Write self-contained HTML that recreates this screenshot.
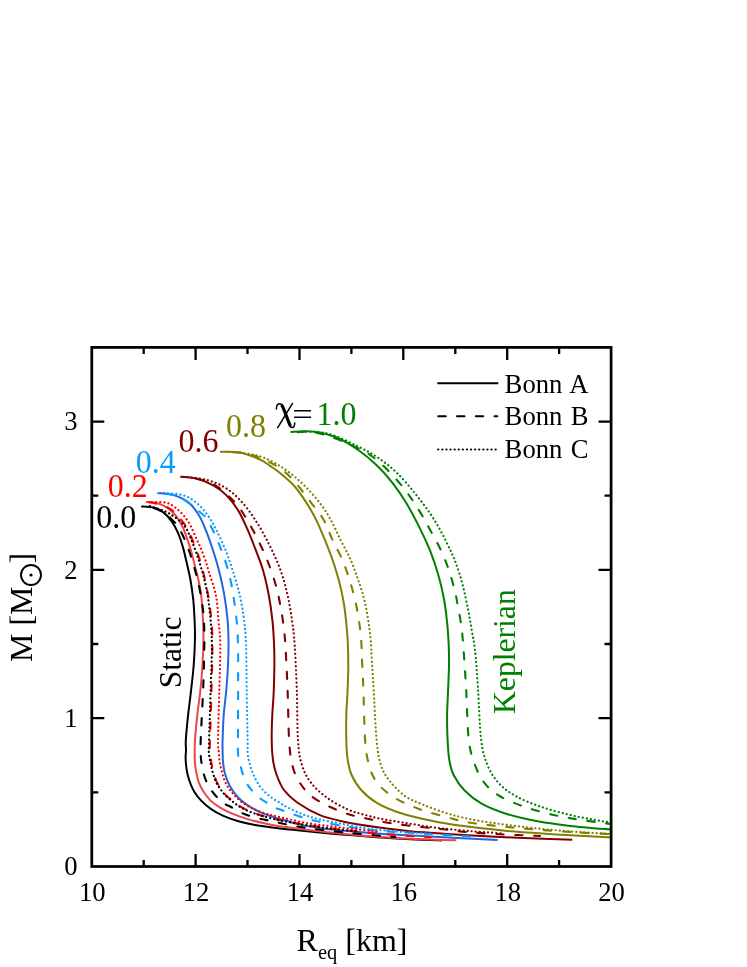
<!DOCTYPE html>
<html><head><meta charset="utf-8"><title>M-R relation</title>
<style>
html,body{margin:0;padding:0;background:#fff;}
body{width:747px;height:967px;overflow:hidden;}
svg{display:block;will-change:transform;}
svg text{font-family:"Liberation Serif",serif;}
</style></head><body>
<svg width="747" height="967" viewBox="0 0 747 967">
<rect x="0" y="0" width="747" height="967" fill="#fff"/>
<defs><clipPath id="cp"><rect x="91.8" y="347.4" width="519.3" height="519.1"/></clipPath></defs>
<g clip-path="url(#cp)" stroke-linecap="butt" stroke-linejoin="round">
<path d="M141.2,506.4C143.3,506.6 150.3,506.8 154.1,507.8C157.8,508.8 160.8,510.3 163.7,512.6C166.6,514.9 169.3,518.0 171.7,521.4C174.1,524.8 176.0,528.4 177.9,532.7C179.8,537.0 181.5,542.5 182.9,547.1C184.3,551.7 184.8,554.7 186.1,560.2C187.4,565.7 189.3,573.5 190.5,580.2C191.7,586.9 192.6,593.5 193.3,600.2C194.0,606.9 194.3,613.7 194.6,620.3C194.9,626.9 195.1,632.5 194.9,640.0C194.8,647.5 194.3,656.6 193.7,665.0C193.1,673.4 192.0,681.8 191.1,690.1C190.2,698.5 189.0,706.8 188.1,715.1C187.2,723.4 186.2,734.3 185.8,740.1C185.5,745.9 186.0,747.0 186.0,750.0C186.0,753.0 185.5,754.6 185.6,758.0C185.7,761.4 186.1,766.3 186.7,770.1C187.3,773.9 188.2,777.2 189.4,780.8C190.6,784.4 192.1,788.1 194.1,791.5C196.1,794.9 198.6,798.0 201.4,800.9C204.2,803.8 207.2,806.4 210.8,808.9C214.4,811.4 218.3,813.6 222.8,815.6C227.3,817.6 232.2,819.4 237.6,821.0C243.0,822.6 247.9,823.8 255.0,825.0C262.1,826.2 273.3,827.6 280.0,828.4C286.7,829.2 289.0,829.4 295.2,830.0C301.4,830.6 308.7,831.4 317.0,832.2C325.3,833.0 336.2,834.0 345.0,834.8C353.8,835.6 359.2,836.1 370.0,836.8C380.8,837.5 398.0,838.6 410.0,839.2C422.0,839.8 436.7,840.3 442.0,840.5" stroke="#000000" stroke-width="2.0" fill="none"/>
<path d="M146.0,502.1C148.2,502.4 155.2,502.6 158.9,503.7C162.7,504.8 165.6,506.5 168.5,508.6C171.4,510.8 174.2,513.4 176.6,516.6C179.0,519.8 181.1,523.8 183.0,527.8C184.9,531.8 186.3,536.4 187.8,540.7C189.3,545.0 190.6,549.2 191.8,553.5C193.0,557.8 194.0,562.3 195.0,566.4C196.0,570.5 197.0,573.2 198.0,578.0C199.0,582.8 200.4,588.2 201.2,595.2C202.0,602.2 202.6,612.8 203.0,620.3C203.4,627.8 203.5,632.5 203.4,640.0C203.3,647.5 203.0,656.6 202.5,665.0C202.0,673.4 201.3,681.8 200.4,690.1C199.5,698.5 198.2,706.8 197.3,715.1C196.4,723.4 195.4,734.3 195.0,740.1C194.6,745.9 194.7,746.6 194.7,750.0C194.7,753.4 194.6,757.1 194.8,760.7C195.0,764.3 195.4,767.8 196.1,771.4C196.8,775.0 197.5,778.8 198.7,782.1C199.9,785.5 201.4,788.4 203.4,791.5C205.4,794.6 208.0,798.2 210.8,800.9C213.6,803.6 216.6,805.5 220.2,807.6C223.8,809.7 227.8,811.7 232.2,813.6C236.6,815.5 241.8,817.3 246.9,818.9C252.0,820.5 257.5,821.8 263.0,823.0C268.5,824.2 271.0,825.0 280.0,826.3C289.0,827.6 306.2,829.7 317.0,831.0C327.8,832.3 336.2,833.1 345.0,834.0C353.8,834.9 360.8,835.6 370.0,836.3C379.2,837.0 390.0,837.7 400.0,838.2C410.0,838.7 420.6,839.1 430.0,839.5C439.4,839.9 451.9,840.2 456.3,840.3" stroke="#F04545" stroke-width="2.0" fill="none"/>
<path d="M157.5,492.9C160.2,493.3 168.6,493.5 173.8,495.1C179.0,496.7 184.6,499.3 188.8,502.6C193.0,505.9 196.0,510.5 198.8,515.1C201.6,519.7 203.4,524.2 205.8,530.1C208.2,536.0 210.8,543.5 213.0,550.2C215.2,556.9 217.0,562.7 218.9,570.2C220.8,577.7 222.9,586.9 224.3,595.2C225.8,603.6 226.9,612.8 227.6,620.3C228.3,627.8 228.4,632.5 228.5,640.0C228.6,647.5 228.4,656.7 228.0,665.0C227.6,673.3 227.0,681.7 226.3,690.0C225.6,698.3 224.3,706.7 223.7,715.0C223.1,723.3 222.8,734.2 222.6,740.0C222.4,745.8 222.5,746.5 222.6,750.0C222.7,753.5 222.6,757.1 222.9,760.7C223.2,764.3 223.6,768.0 224.4,771.4C225.2,774.8 226.3,777.9 227.5,780.8C228.7,783.7 229.8,786.1 231.5,788.8C233.2,791.5 235.5,794.5 237.6,796.9C239.7,799.2 241.9,801.0 244.3,802.9C246.8,804.8 249.4,806.5 252.3,808.2C255.2,809.9 258.6,811.5 261.7,812.9C264.8,814.2 267.9,815.3 271.0,816.3C274.1,817.3 275.6,817.6 280.0,818.9C284.4,820.2 291.5,822.5 297.7,824.0C303.9,825.5 304.9,826.2 317.0,827.7C329.1,829.2 351.2,831.5 370.0,833.0C388.8,834.5 408.7,835.3 430.0,836.5C451.3,837.7 486.3,839.4 497.6,840.0" stroke="#2364E0" stroke-width="2.0" fill="none"/>
<path d="M180.3,476.8C183.2,477.1 192.0,477.3 197.6,478.8C203.2,480.3 209.3,483.3 214.1,486.0C218.9,488.7 222.2,491.1 226.2,495.1C230.2,499.1 234.4,504.3 238.0,510.1C241.6,515.9 244.8,523.4 247.8,530.1C250.8,536.8 253.3,543.5 255.8,550.2C258.3,556.9 260.8,562.7 263.0,570.2C265.2,577.7 267.2,586.9 268.8,595.2C270.4,603.6 271.5,611.9 272.4,620.3C273.3,628.6 273.8,637.8 274.1,645.3C274.4,652.8 274.4,657.5 274.4,665.0C274.3,672.5 274.1,681.7 273.8,690.0C273.5,698.3 272.7,706.7 272.3,715.0C271.9,723.3 271.6,732.5 271.7,740.0C271.8,747.5 272.2,754.2 273.0,760.0C273.8,765.8 274.9,770.0 276.7,775.0C278.5,780.0 280.5,785.4 284.0,790.0C287.5,794.6 291.6,798.5 297.6,802.7C303.6,806.9 312.1,811.9 320.0,815.1C327.9,818.3 335.4,819.9 345.0,821.9C354.6,823.9 366.7,825.7 377.6,827.2C388.5,828.8 401.5,830.3 410.2,831.2C418.9,832.1 420.4,832.1 430.0,832.8C439.6,833.5 455.0,834.6 467.5,835.3C480.0,836.0 492.6,836.6 505.1,837.2C517.6,837.8 531.4,838.3 542.6,838.7C553.8,839.1 567.3,839.5 572.2,839.7" stroke="#800000" stroke-width="2.0" fill="none"/>
<path d="M220.0,451.8C223.3,451.9 233.3,451.2 240.0,452.5C246.7,453.8 255.0,457.3 260.0,459.5C265.0,461.7 266.7,463.6 270.0,465.8C273.3,468.1 276.0,469.7 280.0,473.0C284.0,476.3 289.4,480.6 293.8,485.5C298.2,490.4 302.6,496.8 306.3,502.6C310.1,508.4 313.2,513.8 316.3,520.1C319.4,526.4 322.3,533.5 325.0,540.2C327.7,546.9 330.4,553.5 332.7,560.2C335.0,566.9 337.0,573.5 338.8,580.2C340.6,586.9 342.1,593.5 343.3,600.2C344.5,606.9 345.3,613.6 346.0,620.3C346.7,627.0 347.3,632.8 347.7,640.3C348.1,647.8 348.3,656.7 348.3,665.0C348.3,673.3 347.9,681.7 347.6,690.0C347.3,698.3 346.5,706.7 346.3,715.0C346.1,723.3 346.1,732.5 346.3,740.0C346.5,747.5 346.8,754.2 347.7,760.0C348.6,765.8 349.4,770.0 351.6,775.0C353.9,780.0 357.0,785.4 361.2,790.0C365.4,794.6 370.3,799.1 376.8,802.9C383.3,806.7 391.3,810.1 400.2,813.0C409.1,815.9 419.0,818.1 430.2,820.4C441.4,822.7 455.0,824.9 467.5,826.6C480.0,828.3 492.6,829.6 505.1,830.8C517.6,832.0 530.1,832.8 542.6,833.6C555.1,834.4 568.6,835.2 580.2,835.8C591.8,836.4 606.7,837.1 612.0,837.4" stroke="#808000" stroke-width="2.0" fill="none"/>
<path d="M290.5,432.0C292.9,431.9 300.1,431.2 305.0,431.3C309.9,431.4 314.2,431.3 320.0,432.6C325.8,433.9 333.6,436.1 340.0,439.0C346.4,441.9 352.2,445.7 358.3,450.0C364.4,454.3 370.7,459.6 376.4,465.0C382.1,470.4 387.4,476.3 392.3,482.6C397.2,488.9 401.7,495.5 406.0,502.6C410.3,509.7 414.3,517.2 418.3,525.1C422.3,533.0 426.5,541.9 429.9,550.2C433.2,558.6 436.0,566.9 438.4,575.2C440.8,583.5 442.7,591.9 444.2,600.2C445.7,608.6 446.6,617.8 447.4,625.3C448.1,632.8 448.4,638.7 448.7,645.3C449.0,651.9 449.1,657.5 449.0,665.0C448.9,672.5 448.4,681.7 448.1,690.0C447.8,698.3 447.2,706.7 447.1,715.0C447.0,723.3 447.2,732.5 447.6,740.0C448.0,747.5 448.3,754.2 449.3,760.0C450.3,765.8 451.1,769.9 453.6,775.0C456.2,780.1 459.9,785.7 464.6,790.5C469.3,795.3 474.8,799.9 482.0,803.9C489.2,807.9 498.3,811.3 507.6,814.2C516.9,817.1 527.2,819.3 537.6,821.3C548.0,823.2 557.8,824.5 570.2,825.9C582.6,827.3 605.0,829.0 612.0,829.6" stroke="#008000" stroke-width="2.0" fill="none"/>
<path d="M148.0,506.2C150.0,506.9 156.1,508.4 160.0,510.5C163.9,512.6 168.0,515.6 171.3,518.9C174.6,522.1 177.1,524.8 180.0,530.0C182.9,535.2 185.9,541.7 188.8,550.0C191.7,558.3 195.2,570.0 197.6,580.0C200.0,590.0 201.9,601.2 203.0,610.0C204.1,618.8 204.1,624.5 204.3,632.8C204.5,641.1 204.2,650.5 204.0,660.0C203.8,669.5 203.7,676.8 203.1,690.1C202.5,703.5 201.1,729.5 200.7,740.1C200.3,750.8 200.6,750.4 200.7,754.0C200.8,757.6 200.9,758.9 201.4,762.0C201.9,765.1 202.6,769.7 203.4,772.8C204.2,775.9 204.9,778.0 206.1,780.8C207.3,783.6 209.0,786.8 210.8,789.5C212.6,792.2 214.6,794.6 216.8,796.9C219.0,799.2 221.8,801.8 224.2,803.5C226.5,805.2 228.2,805.4 230.9,806.9C233.6,808.4 237.5,810.9 240.2,812.2C242.9,813.5 244.0,813.9 246.9,814.9C249.8,815.9 254.5,817.5 257.6,818.3C260.7,819.1 262.6,819.2 265.7,819.9C268.8,820.6 269.8,821.0 276.4,822.3C283.0,823.6 292.9,825.9 305.2,827.7C317.5,829.5 335.0,831.5 350.0,833.0C365.0,834.5 387.8,836.3 395.4,837.0" stroke="#000000" stroke-width="2.1" stroke-linecap="round" stroke-dasharray="7.3 11.6" stroke-dashoffset="-6.0" fill="none"/>
<path d="M149.0,502.0C151.0,502.5 157.3,503.7 161.0,505.0C164.7,506.3 168.0,507.2 171.3,509.6C174.6,512.0 178.0,515.7 181.0,519.5C184.0,523.3 186.1,526.0 189.2,532.6C192.3,539.2 196.6,549.7 199.5,558.9C202.4,568.1 204.8,578.3 206.7,587.7C208.6,597.1 209.9,606.0 210.9,615.2C211.9,624.4 212.3,630.3 212.4,642.8C212.5,655.3 211.9,673.8 211.5,690.0C211.1,706.2 210.3,729.7 210.0,740.0C209.7,750.3 209.6,748.5 209.8,752.0C210.0,755.5 210.5,757.7 211.0,760.7C211.5,763.7 212.1,766.8 213.0,770.1C213.9,773.5 215.0,777.7 216.3,780.8C217.6,783.9 219.3,786.3 221.0,788.8C222.7,791.2 224.1,793.3 226.3,795.5C228.5,797.7 231.8,800.3 234.2,802.2C236.6,804.1 238.3,805.3 241.0,806.9C243.7,808.5 247.2,810.3 250.3,811.6C253.4,812.9 256.5,813.9 259.6,814.9C262.7,815.9 265.6,816.7 269.0,817.6C272.4,818.5 274.8,819.0 280.0,820.1C285.2,821.2 290.2,822.4 300.2,824.0C310.2,825.6 325.0,827.8 340.0,829.5C355.0,831.2 374.9,833.2 390.0,834.5C405.1,835.8 423.8,836.8 430.6,837.3" stroke="#FF0000" stroke-width="2.1" stroke-linecap="round" stroke-dasharray="7.3 11.6" stroke-dashoffset="0" fill="none"/>
<path d="M161.0,492.9C163.3,493.3 170.6,494.1 175.0,495.6C179.4,497.1 183.8,499.6 187.6,502.1C191.4,504.6 194.7,507.5 198.0,510.5C201.3,513.5 204.1,514.5 207.6,520.1C211.1,525.7 215.4,535.4 218.9,543.9C222.4,552.4 225.9,562.2 228.4,571.4C230.9,580.6 232.5,589.8 233.9,599.0C235.3,608.2 236.4,617.5 237.1,626.5C237.8,635.5 237.9,642.2 238.1,652.8C238.3,663.4 238.1,675.5 238.1,690.0C238.1,704.5 238.0,730.0 238.0,740.0C238.0,750.0 237.8,747.2 237.9,750.0C238.0,752.8 237.9,753.8 238.4,756.7C238.9,759.6 240.2,764.5 240.9,767.4C241.7,770.3 241.8,771.2 242.9,774.1C244.0,777.0 245.9,781.9 247.6,784.8C249.3,787.7 250.7,789.0 253.0,791.5C255.3,794.0 259.1,797.5 261.7,799.5C264.3,801.5 265.9,802.0 268.4,803.5C270.8,805.0 274.5,807.2 276.4,808.2C278.3,809.2 276.0,808.2 280.0,809.6C284.0,811.0 294.0,814.8 300.2,816.7C306.4,818.6 309.5,819.6 317.0,821.2C324.5,822.8 336.2,824.7 345.0,826.2C353.8,827.7 362.5,829.1 370.0,830.0C377.5,830.9 383.3,831.1 390.0,831.6C396.7,832.1 403.3,832.3 410.0,832.7C416.7,833.1 420.0,833.4 430.0,834.0C440.0,834.6 463.3,836.1 470.0,836.5" stroke="#0A9BFF" stroke-width="2.1" stroke-linecap="round" stroke-dasharray="7.3 11.6" stroke-dashoffset="-5.5" fill="none"/>
<path d="M183.0,476.8C185.8,477.3 194.2,477.9 200.0,479.6C205.8,481.3 211.8,483.0 217.6,486.8C223.4,490.6 230.4,497.5 235.1,502.6C239.8,507.7 242.3,512.0 245.8,517.6C249.3,523.2 252.8,529.7 256.2,536.4C259.6,543.1 263.0,550.0 266.2,557.7C269.4,565.4 272.8,574.8 275.1,582.7C277.5,590.6 278.9,597.7 280.3,605.2C281.8,612.7 282.9,620.3 283.8,627.8C284.7,635.3 285.1,639.9 285.7,650.3C286.3,660.7 287.0,675.0 287.6,690.0C288.2,705.0 288.3,727.5 289.1,740.0C289.9,752.5 290.5,757.9 292.3,765.0C294.1,772.1 296.2,777.2 299.8,782.7C303.4,788.2 307.1,793.3 314.2,798.2C321.3,803.1 333.7,808.8 342.6,812.2C351.5,815.6 359.2,816.9 367.6,818.8C376.0,820.7 383.9,822.1 392.7,823.5C401.5,824.9 411.4,825.9 420.2,826.9C428.9,827.9 437.3,828.6 445.2,829.5C453.1,830.4 457.5,831.4 467.5,832.2C477.5,833.0 493.0,833.9 505.1,834.5C517.2,835.1 534.3,835.8 540.1,836.0" stroke="#800000" stroke-width="2.1" stroke-linecap="round" stroke-dasharray="7.3 11.6" stroke-dashoffset="5.6" fill="none"/>
<path d="M224.0,451.8C227.5,452.1 238.4,452.0 245.0,453.3C251.6,454.6 257.4,456.7 263.7,459.5C270.0,462.3 277.1,465.8 282.7,470.1C288.3,474.4 292.8,479.7 297.5,485.1C302.2,490.5 306.6,496.8 311.0,502.6C315.4,508.4 320.2,513.8 323.8,520.1C327.4,526.4 329.5,533.5 332.6,540.2C335.7,546.9 339.8,553.5 342.6,560.2C345.4,566.9 347.5,573.5 349.6,580.2C351.7,586.9 353.6,593.5 355.1,600.2C356.7,606.9 357.9,613.6 358.9,620.3C359.9,627.0 360.7,633.3 361.2,640.3C361.7,647.2 361.7,653.7 362.1,662.0C362.5,670.3 362.9,677.0 363.4,690.0C363.9,703.0 364.2,727.5 365.1,740.0C366.0,752.5 367.0,757.9 369.0,765.0C371.0,772.1 372.9,777.2 377.2,782.7C381.4,788.2 387.3,793.2 394.5,797.7C401.7,802.2 411.8,806.2 420.2,809.4C428.6,812.6 437.3,814.6 445.2,816.7C453.1,818.9 457.5,820.6 467.5,822.3C477.5,824.0 492.6,825.5 505.1,826.8C517.6,828.1 530.1,829.0 542.6,830.0C555.1,831.0 568.6,831.8 580.2,832.5C591.8,833.2 606.7,833.9 612.0,834.2" stroke="#808000" stroke-width="2.1" stroke-linecap="round" stroke-dasharray="7.3 11.6" stroke-dashoffset="9.7" fill="none"/>
<path d="M297.5,432.2C299.6,432.1 304.6,431.1 310.0,431.8C315.4,432.5 323.0,434.2 330.0,436.5C337.0,438.8 345.3,442.4 352.0,445.5C358.7,448.6 364.2,450.9 370.1,455.0C376.0,459.1 381.8,464.2 387.6,470.1C393.5,476.0 400.0,483.4 405.2,490.1C410.4,496.8 414.7,503.4 418.9,510.1C423.1,516.8 426.5,523.4 430.2,530.1C433.9,536.8 437.8,543.5 440.9,550.2C444.0,556.9 446.6,563.5 448.9,570.2C451.2,576.9 453.2,584.4 454.7,590.2C456.2,596.0 456.6,599.4 457.7,605.2C458.8,611.0 460.3,618.4 461.2,625.0C462.1,631.6 462.4,634.2 463.2,645.0C464.0,655.8 465.3,674.2 466.2,690.0C467.1,705.8 467.3,727.5 468.8,740.0C470.3,752.5 472.4,757.8 475.0,765.0C477.6,772.2 480.5,778.0 484.6,783.2C488.7,788.4 493.2,792.2 499.5,796.0C505.8,799.8 514.6,803.2 522.6,806.1C530.6,809.0 539.2,811.5 547.6,813.6C556.0,815.7 564.4,817.2 572.7,818.6C581.1,820.0 591.2,821.4 597.7,822.3C604.2,823.2 609.6,823.8 612.0,824.1" stroke="#008000" stroke-width="2.1" stroke-linecap="round" stroke-dasharray="7.3 11.6" stroke-dashoffset="0" fill="none"/>
<path d="M150.0,506.2C151.7,506.8 156.7,508.2 160.0,509.5C163.3,510.8 166.0,511.3 170.0,513.9C174.0,516.5 180.2,520.6 183.8,525.0C187.4,529.4 188.7,533.3 191.4,540.0C194.2,546.7 197.8,556.7 200.3,565.0C202.9,573.3 205.1,581.7 206.7,590.0C208.3,598.3 209.2,605.8 210.1,615.0C211.0,624.2 211.8,632.5 211.9,645.0C212.0,657.5 211.1,674.2 210.6,690.0C210.1,705.8 209.4,729.7 209.1,740.0C208.8,750.3 208.6,748.5 208.8,752.0C209.0,755.5 209.6,757.7 210.1,760.7C210.6,763.7 211.2,766.8 212.1,770.1C213.0,773.5 214.2,777.7 215.5,780.8C216.8,783.9 218.5,786.3 220.2,788.8C221.9,791.2 223.3,793.3 225.5,795.5C227.7,797.7 231.1,800.3 233.5,802.2C235.9,804.1 237.5,805.3 240.2,806.9C242.9,808.5 246.5,810.3 249.6,811.6C252.7,812.9 255.9,813.9 259.0,814.9C262.1,815.9 264.9,816.7 268.4,817.6C271.9,818.5 274.7,819.2 280.0,820.3C285.3,821.4 291.9,822.6 300.2,824.0C308.5,825.4 320.4,827.2 330.0,828.5C339.6,829.8 353.3,831.0 358.0,831.5" stroke="#000000" stroke-width="2.2" stroke-linecap="round" stroke-dasharray="0.1 4.0" fill="none"/>
<path d="M152.0,502.0C154.5,502.1 162.8,501.8 166.9,502.9C171.0,504.0 173.7,506.3 176.6,508.6C179.5,510.9 182.2,513.7 184.6,516.6C187.0,519.5 188.8,522.5 190.8,526.2C192.8,530.0 194.8,535.1 196.6,539.1C198.4,543.1 200.0,546.3 201.6,550.3C203.2,554.3 205.2,559.6 206.4,563.2C207.6,566.8 207.3,566.7 208.9,572.0C210.5,577.3 214.3,587.2 215.9,595.2C217.5,603.2 217.8,611.9 218.5,620.3C219.2,628.6 220.2,633.7 220.3,645.3C220.4,656.9 219.7,674.2 219.3,690.0C218.9,705.8 218.1,729.7 218.0,740.0C217.9,750.3 218.6,748.5 218.8,752.0C219.1,755.5 219.1,757.7 219.5,760.7C219.9,763.7 220.7,767.0 221.5,770.1C222.3,773.2 223.1,776.6 224.2,779.5C225.3,782.4 226.6,785.0 228.2,787.5C229.8,790.0 231.5,792.0 233.5,794.2C235.5,796.4 237.7,798.9 240.2,800.9C242.7,802.9 245.6,804.7 248.3,806.2C251.0,807.8 253.4,809.0 256.3,810.2C259.2,811.4 262.4,812.6 265.7,813.6C269.0,814.6 269.8,814.8 276.4,816.3C283.0,817.8 294.6,820.8 305.2,822.7C315.8,824.6 327.9,826.0 340.0,827.5C352.1,829.0 371.7,830.8 378.0,831.5" stroke="#FF0000" stroke-width="2.2" stroke-linecap="round" stroke-dasharray="0.1 4.0" fill="none"/>
<path d="M164.0,492.9C167.1,493.3 177.2,493.5 182.6,495.1C188.0,496.7 192.1,499.3 196.3,502.6C200.5,505.9 204.2,510.5 207.6,515.1C210.9,519.7 213.4,524.2 216.4,530.1C219.4,536.0 222.9,543.5 225.6,550.2C228.3,556.9 230.2,562.7 232.6,570.2C235.0,577.7 237.9,586.9 239.8,595.2C241.7,603.6 243.1,611.9 244.1,620.3C245.1,628.6 245.7,633.7 246.1,645.3C246.5,656.9 246.4,674.2 246.7,690.0C246.9,705.8 247.4,729.7 247.6,740.0C247.8,750.3 247.4,748.5 247.6,752.0C247.8,755.5 248.2,757.7 248.9,760.7C249.6,763.7 250.6,767.2 251.6,770.1C252.6,773.0 253.7,775.4 255.0,778.1C256.4,780.8 257.9,783.7 259.7,786.1C261.5,788.5 263.6,790.8 265.7,792.8C267.8,794.8 270.0,796.5 272.4,798.2C274.8,799.9 277.6,801.3 280.0,802.8C282.4,804.3 283.0,805.1 286.8,807.0C290.6,808.9 297.5,812.3 302.8,814.3C308.1,816.3 312.6,817.7 318.9,819.2C325.1,820.7 332.6,822.0 340.3,823.5C348.0,825.0 357.8,827.1 364.8,828.2C371.8,829.3 376.4,829.6 382.2,830.2C388.0,830.8 393.8,831.3 399.6,831.7C405.4,832.1 411.8,832.5 417.0,832.8C422.2,833.1 428.7,833.6 431.0,833.7" stroke="#0A9BFF" stroke-width="2.2" stroke-linecap="round" stroke-dasharray="0.1 4.0" fill="none"/>
<path d="M187.6,477.1C190.9,477.6 201.3,478.4 207.6,480.1C213.8,481.9 219.7,484.3 225.1,487.6C230.5,490.9 235.0,494.7 240.1,500.1C245.2,505.5 250.5,512.6 255.4,520.1C260.3,527.6 265.3,536.9 269.5,545.2C273.7,553.6 277.5,561.9 280.5,570.2C283.5,578.5 285.7,586.9 287.6,595.2C289.5,603.6 290.8,611.9 292.0,620.3C293.2,628.6 293.9,633.7 294.7,645.3C295.5,656.9 296.2,674.2 296.8,690.0C297.4,705.8 297.1,727.5 298.0,740.0C298.9,752.5 299.7,757.9 301.9,765.0C304.1,772.1 306.8,777.2 311.0,782.7C315.2,788.2 320.9,793.3 327.0,797.7C333.1,802.1 341.1,806.4 347.4,809.3C353.7,812.2 359.0,813.3 364.8,814.9C370.6,816.5 376.4,817.9 382.2,819.1C388.0,820.3 393.8,821.0 399.6,822.0C405.4,823.0 411.2,823.9 417.0,824.8C422.8,825.7 427.2,826.6 434.4,827.5C441.6,828.4 452.4,829.5 460.0,830.2C467.6,830.9 473.0,831.4 480.0,831.9C487.0,832.4 498.3,833.1 502.0,833.4" stroke="#800000" stroke-width="2.2" stroke-linecap="round" stroke-dasharray="0.1 4.0" fill="none"/>
<path d="M228.0,451.8C231.7,452.2 244.0,453.0 250.0,454.0C256.0,455.0 259.4,456.1 264.0,457.8C268.6,459.6 272.9,461.8 277.5,464.5C282.1,467.2 286.7,470.4 291.3,474.0C295.9,477.6 300.4,481.6 305.0,486.2C309.6,490.8 314.6,496.3 318.8,501.7C323.0,507.1 326.4,512.0 330.0,518.4C333.6,524.8 337.2,533.1 340.6,540.0C344.1,546.9 347.8,553.3 350.7,560.0C353.6,566.7 355.9,573.3 358.2,580.0C360.5,586.7 362.7,593.3 364.4,600.0C366.1,606.7 367.1,613.3 368.2,620.0C369.2,626.7 370.1,633.0 370.7,640.0C371.3,647.0 371.4,653.7 371.9,662.0C372.4,670.3 372.9,677.0 373.7,690.0C374.5,703.0 375.4,727.5 376.6,740.0C377.8,752.5 378.8,758.2 380.9,765.0C383.0,771.8 385.4,775.4 389.4,780.6C393.4,785.8 399.2,791.9 405.0,796.0C410.8,800.1 416.9,802.2 424.0,805.1C431.1,808.0 441.1,811.5 447.4,813.5C453.7,815.5 456.6,816.1 462.0,817.4C467.4,818.6 472.9,819.8 480.1,821.0C487.3,822.2 494.7,823.3 505.1,824.6C515.5,825.9 530.1,827.7 542.6,829.0C555.1,830.3 568.6,831.4 580.2,832.2C591.8,833.0 606.7,833.6 612.0,833.9" stroke="#808000" stroke-width="2.2" stroke-linecap="round" stroke-dasharray="0.1 4.0" fill="none"/>
<path d="M298.0,432.0C300.8,432.0 309.2,431.5 315.0,432.0C320.8,432.5 325.5,432.6 332.6,435.0C339.7,437.4 350.1,442.5 357.6,446.2C365.1,449.9 371.1,453.0 377.6,457.4C384.1,461.8 390.1,466.4 396.4,472.4C402.7,478.4 409.6,486.7 415.2,493.6C420.8,500.5 425.8,507.1 430.2,513.6C434.6,520.1 438.1,526.2 441.5,532.4C444.9,538.6 448.2,545.7 450.7,551.0C453.1,556.3 454.2,558.3 456.2,564.0C458.2,569.7 460.7,577.3 462.7,585.0C464.7,592.7 466.7,602.5 468.2,610.0C469.7,617.5 470.6,623.3 471.7,630.0C472.8,636.7 473.9,640.0 475.0,650.0C476.1,660.0 477.1,675.0 478.1,690.0C479.1,705.0 479.6,727.5 481.2,740.0C482.8,752.5 484.5,757.8 487.4,765.0C490.3,772.2 494.0,778.0 498.8,783.2C503.6,788.4 509.1,792.3 516.0,796.2C522.9,800.1 531.5,803.5 540.1,806.5C548.7,809.5 558.9,812.2 567.7,814.4C576.5,816.6 585.3,818.1 592.7,819.5C600.1,820.9 608.8,822.2 612.0,822.8" stroke="#008000" stroke-width="2.2" stroke-linecap="round" stroke-dasharray="0.1 4.0" fill="none"/>
</g>
<g>
<rect x="91.8" y="347.4" width="519.3" height="519.1" fill="none" stroke="#000" stroke-width="2.75"/>
<path d="M143.7,866.5v-6.5M143.7,347.4v6.5M195.6,866.5v-12.5M195.6,347.4v12.5M247.5,866.5v-6.5M247.5,347.4v6.5M299.5,866.5v-12.5M299.5,347.4v12.5M351.4,866.5v-6.5M351.4,347.4v6.5M403.3,866.5v-12.5M403.3,347.4v12.5M455.3,866.5v-6.5M455.3,347.4v6.5M507.2,866.5v-12.5M507.2,347.4v12.5M559.1,866.5v-6.5M559.1,347.4v6.5M91.8,792.3h6.5M611.0,792.3h-6.5M91.8,718.2h12.5M611.0,718.2h-12.5M91.8,644.0h6.5M611.0,644.0h-6.5M91.8,569.9h12.5M611.0,569.9h-12.5M91.8,495.7h6.5M611.0,495.7h-6.5M91.8,421.6h12.5M611.0,421.6h-12.5" stroke="#000" stroke-width="2.3" fill="none"/>
</g>
<g fill="#000">
<text transform="translate(92.2,901.0) scale(1,1.05)" font-size="26.67" text-anchor="middle">10</text>
<text transform="translate(196.1,901.0) scale(1,1.05)" font-size="26.67" text-anchor="middle">12</text>
<text transform="translate(300.0,901.0) scale(1,1.05)" font-size="26.67" text-anchor="middle">14</text>
<text transform="translate(403.8,901.0) scale(1,1.05)" font-size="26.67" text-anchor="middle">16</text>
<text transform="translate(507.7,901.0) scale(1,1.05)" font-size="26.67" text-anchor="middle">18</text>
<text transform="translate(611.5,901.0) scale(1,1.05)" font-size="26.67" text-anchor="middle">20</text>
<text transform="translate(77.5,875.2) scale(1,1.05)" font-size="26.67" text-anchor="end">0</text>
<text transform="translate(77.5,727.0) scale(1,1.05)" font-size="26.67" text-anchor="end">1</text>
<text transform="translate(77.5,578.6) scale(1,1.05)" font-size="26.67" text-anchor="end">2</text>
<text transform="translate(77.5,430.4) scale(1,1.05)" font-size="26.67" text-anchor="end">3</text>
<text transform="translate(296.6,950.7)" font-size="32">R<tspan font-size="20.5" dy="8.7">eq</tspan><tspan dy="-8.7"> [km]</tspan></text>
<g transform="translate(31.8,662) rotate(-90)"><text transform="translate(0.0,0.0)" font-size="32">M [M</text><circle cx="87" cy="-0.8" r="10" fill="none" stroke="#000" stroke-width="1.9"/><circle cx="87" cy="-0.8" r="1.6" fill="#000"/><text transform="translate(98.5,0.0)" font-size="32">]</text></g>
<text transform="translate(96.3,527.7) scale(1,1.05)" font-size="32">0.0</text>
<text transform="translate(107.8,496.8) scale(1,1.05)" font-size="32" fill="#FF0000">0.2</text>
<text transform="translate(135.8,472.5) scale(1,1.05)" font-size="32" fill="#0A9BFF">0.4</text>
<text transform="translate(178.4,452.1) scale(1,1.05)" font-size="32" fill="#800000">0.6</text>
<text transform="translate(226.0,436.5) scale(1,1.05)" font-size="32" fill="#808000">0.8</text>
<g fill="none" stroke="#000" stroke-linecap="round" stroke-linejoin="round"><path d="M276.4,408.9C276.5,405.3 277.8,403.7 279.6,403.7C281,403.7 282,404.6 282.8,406.5" stroke-width="1.5"/><path d="M281.4,404.8C282.6,406 283.4,408 284.3,410.5L288.2,420.8C289.2,423.4 289.8,425 290.6,426.2" stroke-width="3.2" stroke-linecap="butt"/><path d="M289.4,425C290.2,426.8 291.2,427.6 292.4,427.6C294,427.6 294.6,425.8 294.7,422.9" stroke-width="1.5"/><path d="M292.5,403.4L277.7,427.7" stroke-width="1.5"/></g>
<text transform="translate(292.3,425.2)" font-size="32" textLength="20.6" lengthAdjust="spacingAndGlyphs">=</text>
<text transform="translate(316.6,424.8) scale(1,1.05)" font-size="32" fill="#008000">1.0</text>
<text transform="translate(181.0,688.3) rotate(-90) scale(1,1.015)" font-size="31.5">Static</text>
<text transform="translate(515.2,714.0) rotate(-90) scale(1,1.015)" font-size="31.65" fill="#008000">Keplerian</text>
</g>
<g>
<path d="M437.3,383.2H498.3" stroke="#000" stroke-width="2" fill="none"/>
<path d="M438.3,416.2H497.3" stroke="#000" stroke-width="2.1" stroke-linecap="round" stroke-dasharray="7.4 11.35" fill="none"/>
<path d="M438.2,449.5H497" stroke="#000" stroke-width="2.2" stroke-linecap="round" stroke-dasharray="0.1 4.0" fill="none"/>
<text transform="translate(504.6,392.6)" font-size="26.67" word-spacing="1.7">Bonn A</text>
<text transform="translate(504.6,425.4)" font-size="26.67" word-spacing="1.7">Bonn B</text>
<text transform="translate(504.6,458.4)" font-size="26.67" word-spacing="1.7">Bonn C</text>
</g>
</svg>
</body></html>
